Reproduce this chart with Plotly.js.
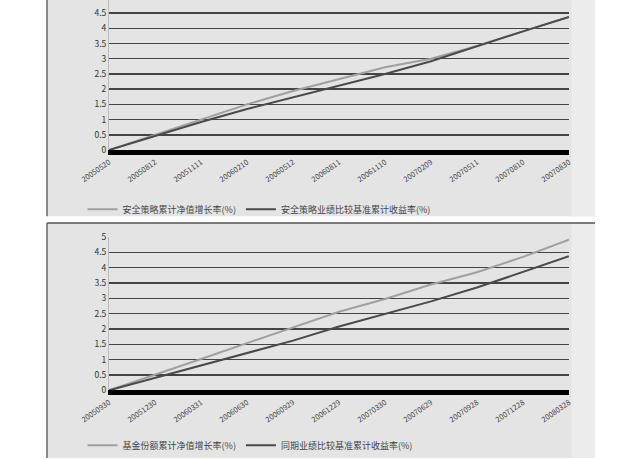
<!DOCTYPE html>
<html><head><meta charset="utf-8">
<script src="https://cdn.plot.ly/plotly-3.0.1.min.js"></script>
<style>html,body{margin:0;padding:0;background:#fff}#chart{width:635px;height:460px}</style>
</head><body><div id="chart"></div>
<script>
// Top chart
const datesTop = ["20050520","20050812","20051111","20060210","20060512","20060811","20061110","20070209","20070511","20070810","20070830"];
const topFund = [0, 0.50, 1.02, 1.50, 1.94, 2.34, 2.72, 3.00, 3.42, 3.90, 4.37];
const topBench = [0, 0.46, 0.92, 1.35, 1.74, 2.11, 2.50, 2.92, 3.42, 3.90, 4.37];
const topNames = ["安全策略累计净值增长率(%)", "安全策略业绩比较基准累计收益率(%)"];
// Bottom chart
const datesBottom = ["20050930","20051230","20060331","20060630","20060929","20061229","20070330","20070629","20070928","20071228","20080328"];
const botFund = [0, 0.50, 1.02, 1.54, 2.05, 2.56, 2.98, 3.45, 3.85, 4.35, 4.91];
const botBench = [0, 0.40, 0.82, 1.22, 1.62, 2.08, 2.50, 2.90, 3.35, 3.85, 4.37];
const botNames = ["基金份额累计净值增长率(%)", "同期业绩比较基准累计收益率(%)"];

const lightCol = '#a0a0a0', darkCol = '#4a4a4a';
const fam = '"Noto Sans CJK SC", "DejaVu Sans", sans-serif';

const traces = [
  {x: datesTop, y: topFund, name: topNames[0], type: 'scatter', mode: 'lines', line: {color: lightCol, width: 2}, xaxis: 'x', yaxis: 'y', legend: 'legend'},
  {x: datesTop, y: topBench, name: topNames[1], type: 'scatter', mode: 'lines', line: {color: darkCol, width: 2}, xaxis: 'x', yaxis: 'y', legend: 'legend'},
  {x: datesBottom, y: botFund, name: botNames[0], type: 'scatter', mode: 'lines', line: {color: lightCol, width: 2}, xaxis: 'x2', yaxis: 'y2', legend: 'legend2'},
  {x: datesBottom, y: botBench, name: botNames[1], type: 'scatter', mode: 'lines', line: {color: darkCol, width: 2}, xaxis: 'x2', yaxis: 'y2', legend: 'legend2'}
];

const xax = (anchor) => ({
  type: 'category', range: [0, 10], domain: [0.1717, 0.896], anchor: anchor,
  showline: true, linecolor: '#000', linewidth: 5, showgrid: false, zeroline: false,
  tickangle: -35, tickfont: {family: fam, size: 7.5, color: '#444'}, ticks: '', fixedrange: true
});
const yax = (anchor, dom, rng) => ({
  domain: dom, range: rng, dtick: 0.5, anchor: anchor,
  showgrid: true, gridcolor: '#444', gridwidth: 1.5, zeroline: false,
  showline: true, linecolor: '#bbb', linewidth: 1, ticks: '',
  tickfont: {family: fam, size: 8.5, color: '#333'}, tickformat: '.1~f'
});

const legendStyle = (y) => ({orientation: 'h', x: 0.13, y: y, xanchor: 'left', yanchor: 'middle', bgcolor: 'rgba(0,0,0,0)', font: {family: fam, size: 9, color: '#444'}, itemwidth: 30, tracegroupgap: 0});

const layout = {
  width: 635, height: 460,
  margin: {l: 0, r: 0, t: 0, b: 0},
  paper_bgcolor: '#ffffff', plot_bgcolor: '#ffffff',
  font: {family: fam, size: 8, color: '#333'},
  showlegend: true,
  xaxis: xax('y'),
  yaxis: yax('x', [0.6724, 1.0], [0, 4.93]),
  xaxis2: xax('y2'),
  yaxis2: yax('x2', [0.1478, 0.4826], [0, 5]),
  legend: legendStyle(0.543),
  legend2: legendStyle(0.028),
  shapes: [
    {type: 'rect', xref: 'paper', yref: 'paper', x0: 0.074, x1: 0.937, y0: 0.528, y1: 1.0, layer: 'below', line: {width: 0}, fillcolor: '#e4e4e4'},
    {type: 'rect', xref: 'paper', yref: 'paper', x0: 0.90, x1: 0.937, y0: 0.528, y1: 1.0, layer: 'below', line: {width: 0}, fillcolor: '#ececec'},
    {type: 'line', xref: 'paper', yref: 'paper', x0: 0.074, x1: 0.074, y0: 0.528, y1: 1.0, layer: 'below', line: {width: 1.5, color: '#666'}},
    {type: 'rect', xref: 'paper', yref: 'paper', x0: 0.074, x1: 0.937, y0: 0.0, y1: 0.513, layer: 'below', line: {width: 0}, fillcolor: '#e4e4e4'},
    {type: 'rect', xref: 'paper', yref: 'paper', x0: 0.90, x1: 0.937, y0: 0.0, y1: 0.513, layer: 'below', line: {width: 0}, fillcolor: '#ececec'},
    {type: 'line', xref: 'paper', yref: 'paper', x0: 0.074, x1: 0.937, y0: 0.513, y1: 0.513, layer: 'below', line: {width: 1.5, color: '#555'}},
    {type: 'line', xref: 'paper', yref: 'paper', x0: 0.074, x1: 0.074, y0: 0.0, y1: 0.513, layer: 'below', line: {width: 1.5, color: '#666'}}
  ]
};

Plotly.newPlot('chart', traces, layout, {staticPlot: true, displayModeBar: false});
</script></body></html>
